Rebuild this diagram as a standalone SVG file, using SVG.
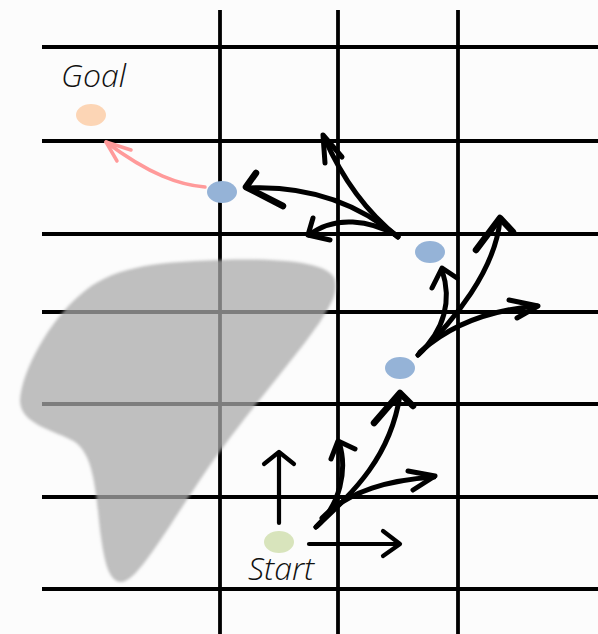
<svg xmlns="http://www.w3.org/2000/svg" width="598" height="634" viewBox="0 0 598 634">
  <style>
    .grid { stroke: #000; stroke-width: 3.8; fill: none; }
    .arw { stroke: #000; fill: none; stroke-linecap: round; stroke-linejoin: round; }
    .lbl { font-family: "Open Sans", "Liberation Sans", sans-serif; font-style: italic; font-weight: 300; font-size: 32px; fill: #111; }
  </style>
  <defs>
    <filter id="soft" x="-10%" y="-10%" width="120%" height="120%">
      <feGaussianBlur stdDeviation="1.5"/>
    </filter>
  </defs>
  <rect width="598" height="634" fill="#fcfcfc"/>

  <!-- grid -->
  <g id="grid" class="grid">
    <line x1="42" y1="47" x2="598" y2="47"/>
    <line x1="42" y1="141" x2="598" y2="141"/>
    <line x1="42" y1="234" x2="598" y2="234"/>
    <line x1="42" y1="312" x2="598" y2="312"/>
    <line x1="42" y1="404" x2="598" y2="404"/>
    <line x1="42" y1="497" x2="598" y2="497"/>
    <line x1="42" y1="589" x2="598" y2="589"/>
    <line x1="220" y1="10" x2="220" y2="634"/>
    <line x1="338" y1="10" x2="338" y2="634"/>
    <line x1="458" y1="10" x2="458" y2="634"/>
  </g>

  <!-- obstacle -->
  <g id="obstacle">
    <path d="M 120,582 C 108,580 104,560 100,530 C 95,480 92,455 75,442 C 55,430 20,425 20,400 C 22,370 50,320 80,295 C 110,268 150,262 220,260 C 280,258 330,262 335,280 C 338,295 330,305 320,322 C 290,365 240,420 200,480 C 160,540 135,584 120,582 Z" fill="#a8a8a8" fill-opacity="0.74" filter="url(#soft)"/>
  </g>

  <!-- nodes -->
  <g id="goal">
    <ellipse cx="91" cy="115" rx="15" ry="11" fill="#fcd5b5"/>
    <text class="lbl" x="61" y="87">Goal</text>
  </g>
  <g id="start">
    <ellipse cx="279" cy="542" rx="15" ry="11" fill="#d8e4bc"/>
    <text class="lbl" x="248" y="580">Start</text>
  </g>
  <g id="state1">
    <ellipse cx="222" cy="192" rx="15" ry="11" fill="#95b3d7"/>
  </g>
  <g id="state2">
    <ellipse cx="430" cy="252" rx="15" ry="11" fill="#95b3d7"/>
  </g>
  <g id="state3">
    <ellipse cx="400" cy="368" rx="15" ry="11" fill="#95b3d7"/>
  </g>

  <!-- connectors -->
  <g id="connectors" class="arw">
    <!-- path to goal -->
    <g stroke="#ff9a9a" stroke-width="3.5">
      <path d="M 205,187 C 180,185 150,175 106,142"/>
      <path d="M 131,150 L 106,142 L 117,161"/>
    </g>

    <!-- from start -->
    <g stroke-width="4.2">
      <path d="M 279,523 L 279,453"/>
      <path d="M 264,464 L 279,452 L 294,464"/>
      <path d="M 309,544 L 399,544"/>
      <path d="M 383,531 L 400,544 L 383,556"/>
    </g>
    <g stroke-width="5">
      <path d="M 316,527 C 340,505 348,470 339,442"/>
      <path d="M 331,459 L 338,441 L 355,449"/>
      <path d="M 316,527 C 350,495 390,460 400,395"/>
      <path d="M 374,423 L 400,393 L 413,406" stroke-width="6.5"/>
      <path d="M 322,518 C 350,490 390,480 434,477"/>
      <path d="M 408,471 L 435,476 L 413,490"/>
    </g>

    <!-- from state3 -->
    <g stroke-width="5">
      <path d="M 418,355 C 445,330 452,300 442,270"/>
      <path d="M 432,288 L 442,268 L 457,278"/>
      <path d="M 418,355 C 455,320 495,270 500,220"/>
      <path d="M 476,250 L 500,218 L 513,232" stroke-width="6.5"/>
      <path d="M 420,352 C 450,325 490,310 537,306"/>
      <path d="M 509,300 L 538,306 L 517,318"/>
    </g>

    <!-- from state2 -->
    <g stroke-width="5">
      <path d="M 398,237 C 360,205 310,185 247,188"/>
      <path d="M 256,173 L 246,187 L 283,206" stroke-width="6.5"/>
      <path d="M 398,237 C 370,215 345,185 324,137"/>
      <path d="M 325,163 L 323,135 L 342,157"/>
      <path d="M 398,236 C 370,220 335,215 309,235"/>
      <path d="M 313,218 L 308,235 L 330,240"/>
    </g>
  </g>
</svg>
